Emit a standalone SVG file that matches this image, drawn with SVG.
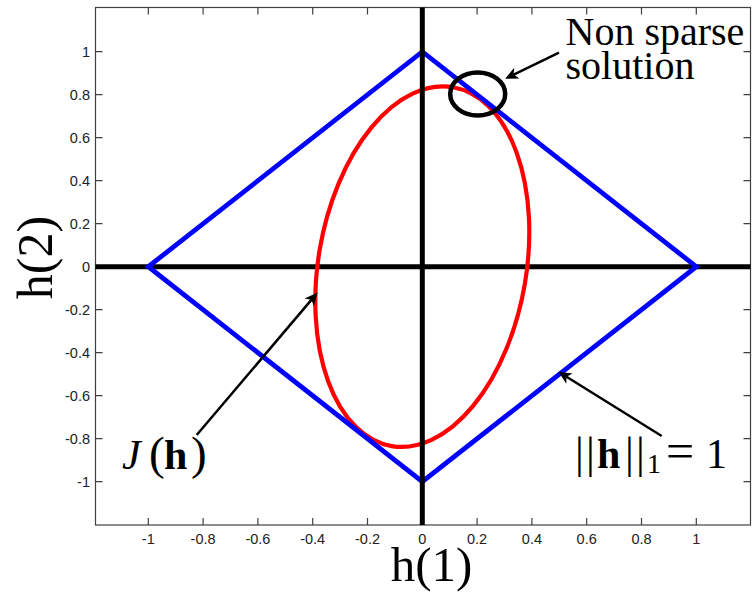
<svg xmlns="http://www.w3.org/2000/svg" width="752" height="594" viewBox="0 0 752 594">
<defs>
<style>
.box{fill:none;stroke:#404040;stroke-width:1.2}
.tick{stroke:#404040;stroke-width:1.2}
.tl{font-family:"Liberation Sans",Arial,sans-serif;font-size:14.5px;fill:#222}
.tx{text-anchor:middle}
.ty{text-anchor:end}
.axis{stroke:#000;stroke-width:5;fill:none}
.lbl{font-family:"Liberation Serif","Times New Roman",serif;fill:#000}
.arrow{stroke:#000;stroke-width:2.5;fill:none;marker-end:url(#ah)}
</style>
<marker id="ah" markerUnits="userSpaceOnUse" viewBox="-5 -7 15 14" markerWidth="15" markerHeight="14" refX="0" refY="0" orient="auto">
<path d="M9,0 L-4,-6 L-0.5,0 L-4,6 Z" fill="#000"/>
</marker>
</defs>
<rect width="752" height="594" fill="#fff"/>
<g id="axes-frame">
<rect class="box" x="95.5" y="7.5" width="655" height="517.5"/>
<path class="tick" d="M148.3,525V518M203.1,525V518M257.9,525V518M312.7,525V518M367.5,525V518M422.3,525V518M477.1,525V518M531.9,525V518M586.7,525V518M641.5,525V518M696.3,525V518
M148.3,7.5V14.5M203.1,7.5V14.5M257.9,7.5V14.5M312.7,7.5V14.5M367.5,7.5V14.5M422.3,7.5V14.5M477.1,7.5V14.5M531.9,7.5V14.5M586.7,7.5V14.5M641.5,7.5V14.5M696.3,7.5V14.5
M95.5,51.7H102.5M95.5,94.7H102.5M95.5,137.7H102.5M95.5,180.7H102.5M95.5,223.7H102.5M95.5,266.7H102.5M95.5,309.7H102.5M95.5,352.7H102.5M95.5,395.7H102.5M95.5,438.7H102.5M95.5,481.7H102.5
M750.5,51.7H743.5M750.5,94.7H743.5M750.5,137.7H743.5M750.5,180.7H743.5M750.5,223.7H743.5M750.5,266.7H743.5M750.5,309.7H743.5M750.5,352.7H743.5M750.5,395.7H743.5M750.5,438.7H743.5M750.5,481.7H743.5"/>
<g class="tl tx">
<text x="148.3" y="543.5">-1</text>
<text x="203.1" y="543.5">-0.8</text>
<text x="257.9" y="543.5">-0.6</text>
<text x="312.7" y="543.5">-0.4</text>
<text x="367.5" y="543.5">-0.2</text>
<text x="422.3" y="543.5">0</text>
<text x="477.1" y="543.5">0.2</text>
<text x="531.9" y="543.5">0.4</text>
<text x="586.7" y="543.5">0.6</text>
<text x="641.5" y="543.5">0.8</text>
<text x="696.3" y="543.5">1</text>
</g>
<g class="tl ty">
<text x="90" y="56.7">1</text>
<text x="90" y="99.7">0.8</text>
<text x="90" y="142.7">0.6</text>
<text x="90" y="185.7">0.4</text>
<text x="90" y="228.7">0.2</text>
<text x="90" y="271.7">0</text>
<text x="90" y="314.7">-0.2</text>
<text x="90" y="357.7">-0.4</text>
<text x="90" y="400.7">-0.6</text>
<text x="90" y="443.7">-0.8</text>
<text x="90" y="486.7">-1</text>
</g>
</g>
<g id="h-axis"><line class="axis" x1="95.5" y1="266.7" x2="750.5" y2="266.7"/></g>
<g id="ellipse-J"><ellipse cx="0" cy="0" rx="104" ry="182" transform="translate(422.3,266.7) rotate(9.7)" fill="none" stroke="#ff0000" stroke-width="4.2"/></g>
<g id="diamond-l1"><path d="M148.3,266.7 L422.3,51.7 L696.3,266.7 L422.3,481.7 Z" fill="none" stroke="#0000ff" stroke-width="4.8" stroke-linejoin="miter"/></g>
<g id="v-axis"><line class="axis" x1="422.3" y1="7.5" x2="422.3" y2="525"/></g>
<g id="highlight-circle"><ellipse cx="477.7" cy="94" rx="27.5" ry="21.5" fill="none" stroke="#000" stroke-width="4.5"/></g>
<g id="connectors">
<path class="arrow" d="M559,52.7 L513.2,74.8"/>
<path class="arrow" d="M196.7,435 L311.8,299.4"/>
<path class="arrow" d="M661.7,436 L566.1,376.5"/>
</g>
<g id="label-nonsparse">
<text class="lbl" x="565.5" y="45" font-size="40">Non sparse</text>
<text class="lbl" x="565.5" y="79" font-size="40">solution</text>
</g>
<g id="label-J">
<text class="lbl" y="469" font-size="42"><tspan x="122" font-style="italic">J</tspan><tspan x="149" font-size="47">(</tspan><tspan x="164" font-weight="bold">h</tspan><tspan x="191" font-size="47">)</tspan></text>
</g>
<g id="label-norm">
<text class="lbl" y="468" font-size="44"><tspan x="575">|</tspan><tspan x="586">|</tspan><tspan x="597" font-weight="bold" font-size="42">h</tspan><tspan x="625">|</tspan><tspan x="636">|</tspan><tspan x="647" y="473" font-size="28">1</tspan><tspan x="666" y="468" font-size="50">=</tspan><tspan x="706" font-size="42">1</tspan></text>
</g>
<g id="xlabel"><text class="lbl" x="431.5" y="581" font-size="49" text-anchor="middle">h(1)</text></g>
<g id="ylabel"><text class="lbl" font-size="50" text-anchor="middle" transform="translate(52,257.5) rotate(-90)">h(2)</text></g>
</svg>
